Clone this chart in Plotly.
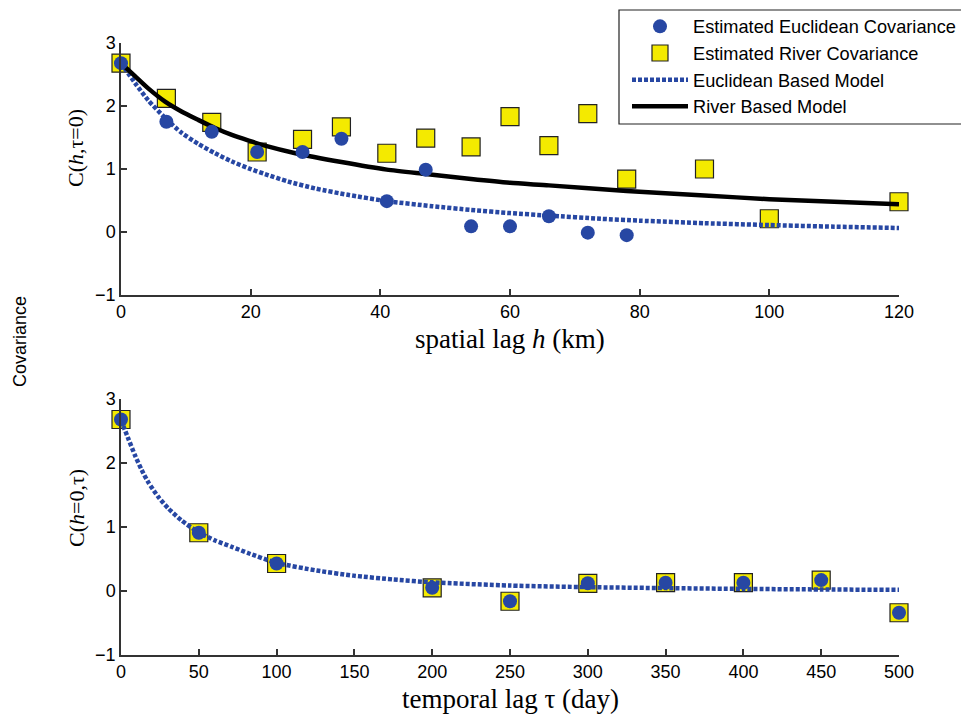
import plotly.graph_objects as go

# ---------------- data ----------------
# Top panel: spatial lag h (km)
h_euc = [0, 7, 14, 21, 28, 34, 41, 47, 54, 60, 66, 72, 78]
c_euc = [2.68, 1.75, 1.59, 1.27, 1.27, 1.48, 0.49, 0.99, 0.09, 0.09, 0.25, -0.01, -0.05]

h_riv = [0, 7, 14, 21, 28, 34, 41, 47, 54, 60, 66, 72, 78, 90, 100, 120]
c_riv = [2.68, 2.12, 1.74, 1.27, 1.47, 1.67, 1.25, 1.49, 1.35, 1.83, 1.37, 1.88, 0.84, 1.00, 0.21, 0.48]

h_euc_model = [0, 2.2, 4.2, 6.8, 9.4, 11.9, 14.5, 17.1, 19.7, 22.2, 25.8, 30, 35, 41,
               48, 54, 60, 66, 74, 80, 90, 100, 110, 120]
c_euc_model = [2.68, 2.36, 2.09, 1.81, 1.57, 1.40, 1.25, 1.12, 1.01, 0.92, 0.80, 0.69, 0.59, 0.49,
               0.41, 0.35, 0.30, 0.26, 0.21, 0.18, 0.14, 0.11, 0.085, 0.064]

h_riv_model = [0, 2.2, 4.2, 6.8, 9.4, 11.9, 14.5, 17.1, 19.7, 22.2, 26.9, 34, 41, 47,
               54, 60, 66, 78, 90, 100, 110, 120]
c_riv_model = [2.68, 2.47, 2.28, 2.07, 1.91, 1.78, 1.65, 1.54, 1.45, 1.37, 1.25, 1.11, 0.99, 0.92,
               0.84, 0.78, 0.74, 0.65, 0.58, 0.52, 0.48, 0.44]

# Bottom panel: temporal lag tau (day)
t_est = [0, 50, 100, 200, 250, 300, 350, 400, 450, 500]
c_t_euc = [2.68, 0.91, 0.43, 0.05, -0.16, 0.12, 0.13, 0.13, 0.17, -0.34]
c_t_riv = [2.68, 0.91, 0.43, 0.05, -0.16, 0.12, 0.13, 0.13, 0.17, -0.34]

t_model = [0, 4.7, 9, 13.3, 17.5, 24, 30.4, 39, 49.7, 60.4, 71.2, 81.9, 100, 125.8,
           149.4, 175, 200, 250, 300, 350, 400, 450, 500]
c_t_model = [2.67, 2.38, 2.12, 1.89, 1.70, 1.47, 1.29, 1.10, 0.92, 0.79, 0.69, 0.59, 0.44, 0.32,
             0.24, 0.18, 0.135, 0.085, 0.06, 0.045, 0.033, 0.024, 0.018]

x_ticks_top = [0, 20, 40, 60, 80, 100, 120]
x_ticks_bot = [0, 50, 100, 150, 200, 250, 300, 350, 400, 450, 500]
y_ticks = [-1, 0, 1, 2, 3]

# ---------------- styles ----------------
BLUE = "#2747a3"
YELLOW = "#f4ea00"
AXC = "#333333"
SANS = "Liberation Sans, Arial, sans-serif"
SERIF = "Liberation Serif, Times New Roman, serif"
DOT = "4px,2px"

OFF = 8  # page body margin
W, H = 969 - OFF, 715 - OFF
ML, MT = 121 - OFF, 43 - OFF
MR = W - (899 - OFF)
MB = H - (655 - OFF)
PH = H - MT - MB
PW = W - ML - MR


def px_x(p):  # reference-screen pixel -> paper x
    return (p - OFF - ML) / PW


def px_y(p):  # reference-screen pixel -> paper y
    return (H - MB - (p - OFF)) / PH


def cx(p):  # reference-screen pixel -> container x
    return (p - OFF) / W


def cy(p):  # reference-screen pixel -> container y
    return 1 - (p - OFF) / H


fig = go.Figure()

sq = dict(symbol="square", size=18, color=YELLOW, line=dict(color="#222", width=1.2))
ci = dict(symbol="circle", size=14, color=BLUE)
spline = dict(shape="spline", smoothing=0.6)

# top panel
fig.add_trace(go.Scatter(x=h_riv, y=c_riv, mode="markers", marker=sq, name="Estimated River Covariance",
                         legendrank=2, cliponaxis=False, xaxis="x", yaxis="y"))
fig.add_trace(go.Scatter(x=h_euc_model, y=c_euc_model, mode="lines",
                         line=dict(color=BLUE, width=4.5, dash=DOT, **spline),
                         name="Euclidean Based Model", legendrank=3, cliponaxis=False, xaxis="x", yaxis="y"))
fig.add_trace(go.Scatter(x=h_riv_model, y=c_riv_model, mode="lines",
                         line=dict(color="black", width=4.5, **spline),
                         name="River Based Model", legendrank=4, cliponaxis=False, xaxis="x", yaxis="y"))
fig.add_trace(go.Scatter(x=h_euc, y=c_euc, mode="markers", marker=ci, name="Estimated Euclidean Covariance",
                         legendrank=1, cliponaxis=False, xaxis="x", yaxis="y"))

# bottom panel
fig.add_trace(go.Scatter(x=t_est, y=c_t_riv, mode="markers", marker=sq, showlegend=False,
                         cliponaxis=False, xaxis="x2", yaxis="y2"))
fig.add_trace(go.Scatter(x=t_model, y=c_t_model, mode="lines",
                         line=dict(color=BLUE, width=4.5, dash=DOT, **spline), showlegend=False,
                         cliponaxis=False, xaxis="x2", yaxis="y2"))
fig.add_trace(go.Scatter(x=t_est, y=c_t_euc, mode="markers", marker=ci, showlegend=False,
                         cliponaxis=False, xaxis="x2", yaxis="y2"))

axis_common = dict(showline=True, linecolor=AXC, linewidth=1.5, ticks="inside", ticklen=6,
                   tickwidth=1.5, tickcolor=AXC, showgrid=False, zeroline=False,
                   tickfont=dict(family=SANS, size=18, color="black"))

fig.update_layout(
    width=W, height=H,
    margin=dict(l=ML, r=MR, t=MT, b=MB, autoexpand=False),
    paper_bgcolor="white", plot_bgcolor="white",
    xaxis=dict(domain=[0, 1], anchor="y", range=[0, 120], tickvals=x_ticks_top, **axis_common),
    yaxis=dict(domain=[px_y(295), 1], anchor="x", range=[-1, 3], tickvals=y_ticks, **axis_common),
    xaxis2=dict(domain=[0, 1], anchor="y2", range=[0, 500], tickvals=x_ticks_bot, **axis_common),
    yaxis2=dict(domain=[0, px_y(399)], anchor="x2", range=[-1, 3], tickvals=y_ticks, **axis_common),
    legend=dict(xref="container", yref="container", x=cx(627), y=cy(8), xanchor="left", yanchor="top",
                bgcolor="rgba(0,0,0,0)", borderwidth=0,
                font=dict(family=SANS, size=18.2, color="black"),
                itemwidth=56, tracegroupgap=0),
    showlegend=True,
    shapes=[dict(type="rect", xref="paper", yref="paper", x0=px_x(619), x1=px_x(985),
                 y0=px_y(124), y1=px_y(10), line=dict(color="#222", width=1.2),
                 fillcolor="rgba(0,0,0,0)", layer="above")],
)

annots = [
    dict(text="spatial lag <i>h</i> (km)", x=0.5, y=px_y(339), font=dict(family=SERIF, size=27)),
    dict(text="temporal lag τ (day)", x=0.5, y=px_y(699), font=dict(family=SERIF, size=27)),
    dict(text="C(<i>h</i>,τ=0)", x=px_x(76), y=px_y(148), textangle=-90, font=dict(family=SERIF, size=22)),
    dict(text="C(<i>h</i>=0,τ)", x=px_x(76), y=px_y(508), textangle=-90, font=dict(family=SERIF, size=22)),
    dict(text="Covariance", x=px_x(20), y=px_y(342), textangle=-90, font=dict(family=SANS, size=18)),
]
for a in annots:
    a.update(xref="paper", yref="paper", showarrow=False, xanchor="center", yanchor="middle")
    a["font"]["color"] = "black"
fig.update_layout(annotations=annots)

fig.write_html("out.html")
